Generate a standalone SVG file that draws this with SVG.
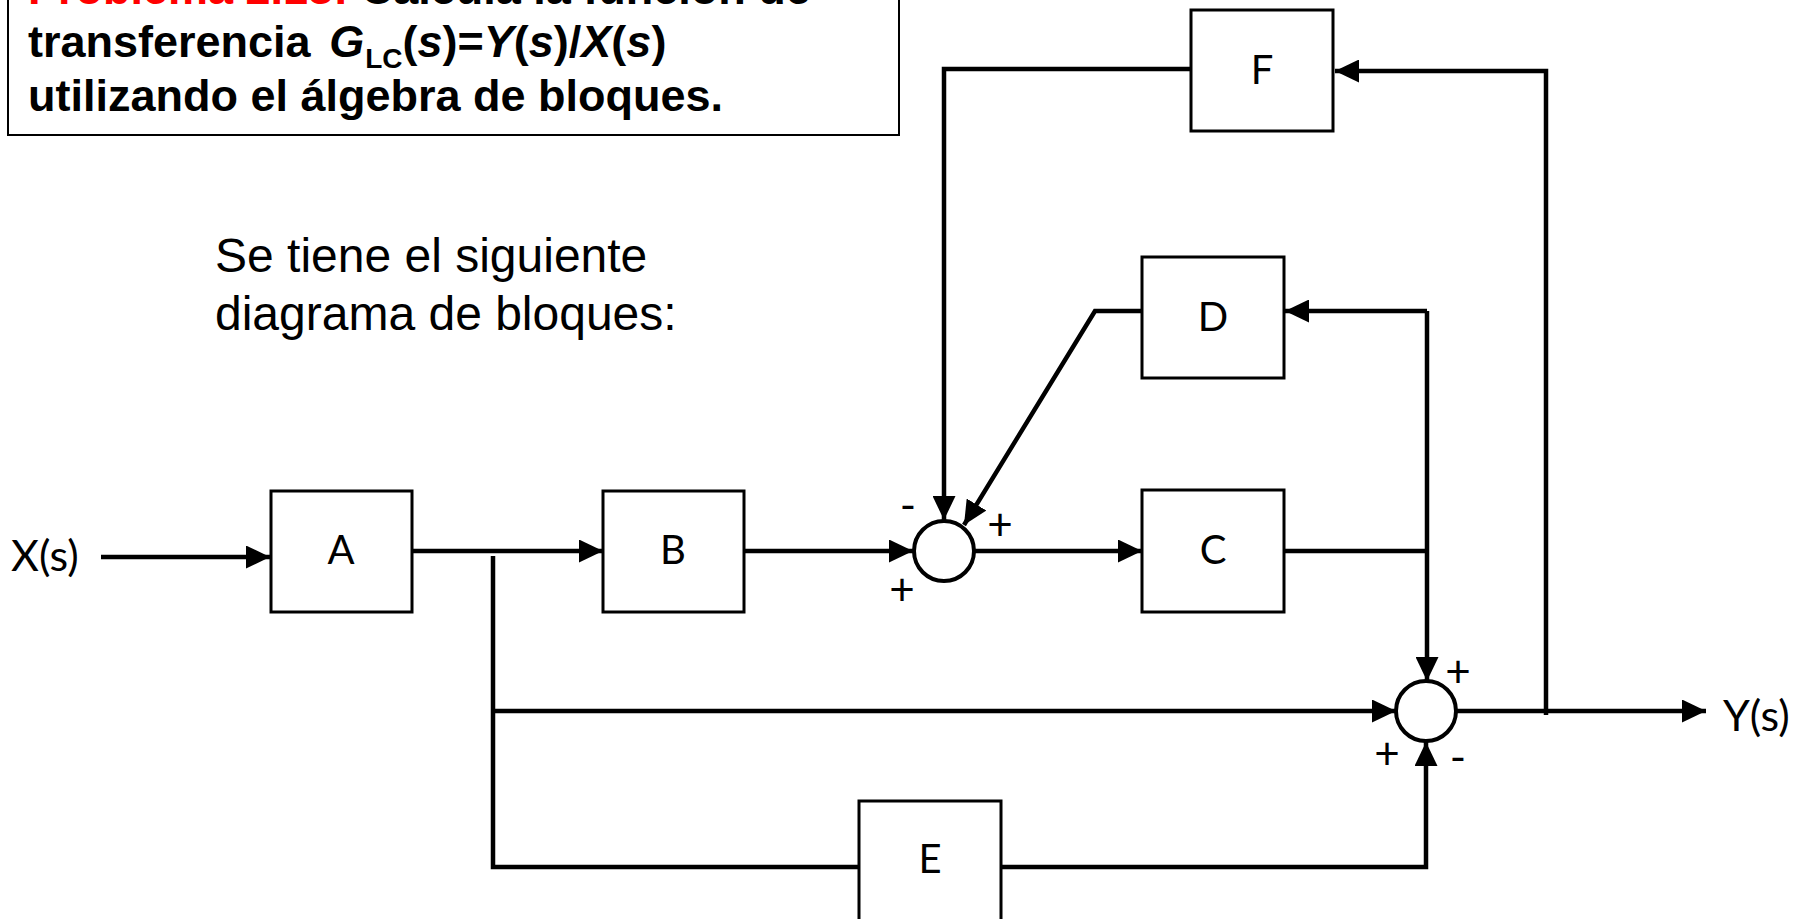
<svg xmlns="http://www.w3.org/2000/svg" width="1803" height="919" viewBox="0 0 1803 919">
<style>
.blk{fill:#fff;stroke:#000;stroke-width:3}
.sum{fill:#fff;stroke:#000;stroke-width:4}
.lbl{font-family:Lato,"Open Sans",sans-serif;font-size:40px;fill:#000;text-anchor:middle}
.sig{font-family:Lato,"Open Sans",sans-serif;font-size:44px;fill:#000;text-anchor:middle}
.io{font-family:Lato,"Open Sans",sans-serif;font-size:43px;fill:#000}
.wire{fill:none;stroke:#000;stroke-width:4.5}
.arr{marker-end:url(#ah)}
.title{font-family:"Liberation Sans",Arial,sans-serif;font-size:45px;font-weight:bold;fill:#000}
.intro{font-family:"Liberation Sans",Arial,sans-serif;font-size:48px;fill:#000}
</style>
<defs>
<marker id="ah" markerUnits="userSpaceOnUse" markerWidth="24" markerHeight="23" refX="24" refY="11.5" orient="auto">
<path d="M0,0 L24,11.5 L0,23 z" fill="#000"/>
</marker>
</defs>
<rect width="1803" height="919" fill="#fff"/>
<g id="title">
<rect x="8" y="-4" width="891" height="139" fill="#fff" stroke="#000" stroke-width="2"/>
<text class="title" x="28" y="4"><tspan fill="#ff0000">Problema 2.13:</tspan> Calcula la función de</text>
<text class="title" x="28" y="57">transferencia <tspan font-style="italic" dx="6">G</tspan><tspan font-size="28" dy="11" dx="1">LC</tspan><tspan dy="-11">(</tspan><tspan font-style="italic">s</tspan>)=<tspan font-style="italic">Y</tspan>(<tspan font-style="italic">s</tspan>)/<tspan font-style="italic">X</tspan>(<tspan font-style="italic">s</tspan>)</text>
<text class="title" x="28" y="111">utilizando el álgebra de bloques.</text>
</g>
<g id="intro">
<text class="intro" x="215" y="272">Se tiene el siguiente</text>
<text class="intro" x="215" y="330">diagrama de bloques:</text>
</g>
<g id="connectors">
<path class="wire arr" d="M101,557 H270"/>
<path class="wire arr" d="M412,551 H603"/>
<path class="wire arr" d="M744,551 H913"/>
<path class="wire arr" d="M975,551 H1142"/>
<path class="wire" d="M1284,551 H1427"/>
<path class="wire arr" d="M1427,311 V681"/>
<path class="wire arr" d="M1427,311 H1285"/>
<path class="wire arr" d="M1142,311 H1095 L964,525"/>
<path class="wire arr" d="M1191,69 H944 V520"/>
<path class="wire arr" d="M1546,715 V71 H1335"/>
<path class="wire arr" d="M1456,711 H1706"/>
<path class="wire" d="M493,556 V867 H859"/>
<path class="wire arr" d="M493,711 H1396"/>
<path class="wire arr" d="M1001,867 H1426 V742"/>
</g>
<g id="A"><rect class="blk" x="271" y="491" width="141" height="121"/><text class="lbl" x="341" y="564">A</text></g>
<g id="B"><rect class="blk" x="603" y="491" width="141" height="121"/><text class="lbl" x="673" y="564">B</text></g>
<g id="C"><rect class="blk" x="1142" y="490" width="142" height="122"/><text class="lbl" x="1213" y="564">C</text></g>
<g id="D"><rect class="blk" x="1142" y="257" width="142" height="121"/><text class="lbl" x="1213" y="331">D</text></g>
<g id="E"><rect class="blk" x="859" y="801" width="142" height="130"/><text class="lbl" x="930" y="873">E</text></g>
<g id="F"><rect class="blk" x="1191" y="10" width="142" height="121"/><text class="lbl" x="1262" y="84">F</text></g>
<g id="sum1"><circle class="sum" cx="944" cy="551" r="30"/>
<text class="sig" x="908" y="521">-</text>
<text class="sig" x="1000" y="540">+</text>
<text class="sig" x="902" y="605">+</text>
</g>
<g id="sum2"><circle class="sum" cx="1426" cy="711" r="30"/>
<text class="sig" x="1458" y="687">+</text>
<text class="sig" x="1387" y="769">+</text>
<text class="sig" x="1458" y="773">-</text>
</g>
<g id="X"><text class="io" x="11" y="571">X(s)</text></g>
<g id="Y"><text class="io" x="1723" y="731">Y(s)</text></g>
</svg>
